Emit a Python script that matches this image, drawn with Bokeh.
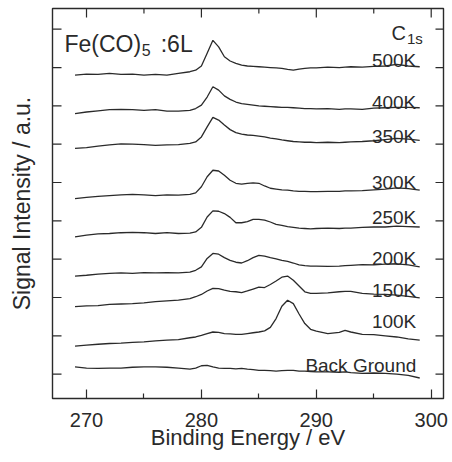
from bokeh.plotting import figure
from bokeh.models import FixedTicker, Label, Range1d
from bokeh.embed import file_html
from bokeh.resources import INLINE

# Binding energy grid (eV)
energy = [269, 270, 271, 272, 273, 274, 275, 276, 277, 278,
          279, 279.5, 280, 280.5, 281, 281.5, 282, 282.5, 283, 283.5,
          284, 284.5, 285, 285.5, 286, 286.5, 287, 287.5, 288, 288.5,
          289, 289.5, 290,
          291, 292, 292.5, 293, 294, 295, 296, 297, 298, 299]

# Stacked C1s spectra (signal intensity, a.u., with stacking offset)
s500 = [8.80, 8.83, 8.82, 8.85, 8.82, 8.83, 8.80, 8.82, 8.80, 8.85,
        8.89, 8.93, 9.04, 9.37, 9.71, 9.54, 9.28, 9.17, 9.11, 9.06,
        9.04, 9.03, 9.02, 9.01, 9.00, 8.99, 8.98, 8.95, 8.93, 8.96,
        8.98, 8.99, 8.99,
        9.01, 9.00, 9.01, 9.02, 9.01, 9.03, 9.04, 9.08, 9.04, 9.02]
s400 = [7.80, 7.84, 7.87, 7.90, 7.91, 7.90, 7.88, 7.90, 7.86, 7.86,
        7.88, 7.93, 8.02, 8.23, 8.50, 8.41, 8.26, 8.17, 8.10, 8.06,
        8.04, 8.02, 8.00, 7.99, 7.98, 7.97, 7.96, 7.96, 7.95, 7.94,
        7.93, 7.93, 7.92,
        7.93, 7.91, 7.92, 7.92, 7.91, 7.94, 7.95, 7.96, 7.96, 7.95]
s350 = [6.89, 6.91, 6.95, 6.98, 7.01, 7.00, 6.99, 6.97, 6.98, 6.99,
        7.02, 7.06, 7.19, 7.45, 7.70, 7.63, 7.50, 7.38, 7.30, 7.26,
        7.24, 7.23, 7.21, 7.19, 7.16, 7.14, 7.11, 7.09, 7.07, 7.06,
        7.05, 7.05, 7.04,
        7.05, 7.04, 7.05, 7.06, 7.07, 7.09, 7.12, 7.15, 7.13, 7.10]
s300 = [5.58, 5.61, 5.64, 5.66, 5.68, 5.69, 5.68, 5.66, 5.68, 5.67,
        5.69, 5.73, 5.89, 6.15, 6.32, 6.30, 6.19, 6.06, 5.98, 5.96,
        5.98, 5.99, 5.98, 5.91, 5.85, 5.83, 5.81, 5.80, 5.78, 5.77,
        5.77, 5.76, 5.76,
        5.77, 5.77, 5.78, 5.78, 5.79, 5.81, 5.83, 5.86, 5.84, 5.80]
s250 = [4.58, 4.63, 4.66, 4.67, 4.69, 4.70, 4.69, 4.67, 4.69, 4.67,
        4.68, 4.71, 4.83, 5.10, 5.26, 5.25, 5.19, 5.09, 4.95, 4.95,
        4.98, 5.04, 5.04, 5.02, 4.97, 4.91, 4.88, 4.85, 4.83, 4.81,
        4.80, 4.79, 4.80,
        4.81, 4.80, 4.81, 4.81, 4.83, 4.84, 4.84, 4.86, 4.85, 4.84]
s200 = [3.56, 3.58, 3.61, 3.63, 3.64, 3.63, 3.65, 3.64, 3.65, 3.64,
        3.66, 3.71, 3.80, 4.02, 4.15, 4.13, 4.04, 3.97, 3.92, 3.90,
        3.96, 4.04, 4.10, 4.08, 4.04, 4.01, 3.97, 3.94, 3.90, 3.85,
        3.83, 3.82, 3.82,
        3.81, 3.82, 3.83, 3.84, 3.86, 3.85, 3.87, 3.88, 3.85, 3.80]
s150 = [2.76, 2.78, 2.79, 2.82, 2.83, 2.84, 2.86, 2.89, 2.91, 2.93,
        2.97, 3.02, 3.08, 3.17, 3.24, 3.23, 3.19, 3.16, 3.15, 3.13,
        3.17, 3.22, 3.27, 3.26, 3.34, 3.43, 3.53, 3.56, 3.45, 3.30,
        3.15, 3.11, 3.11,
        3.12, 3.15, 3.16, 3.16, 3.11, 3.09, 3.08, 3.06, 3.03, 2.99]
s100 = [1.73, 1.76, 1.78, 1.80, 1.81, 1.83, 1.84, 1.87, 1.89, 1.90,
        1.95, 1.97, 2.01, 2.06, 2.10, 2.09, 2.06, 2.05, 2.04, 2.04,
        2.06, 2.08, 2.10, 2.13, 2.22, 2.45, 2.77, 2.93, 2.84, 2.57,
        2.32, 2.17, 2.12,
        2.06, 2.09, 2.14, 2.10, 2.04, 2.03, 2.00, 1.97, 1.92, 1.89]
s_bg = [1.19, 1.16, 1.15, 1.16, 1.16, 1.18, 1.19, 1.19, 1.18, 1.16,
        1.13, 1.16, 1.22, 1.23, 1.19, 1.16, 1.15, 1.15, 1.14, 1.15,
        1.13, 1.12, 1.10, 1.10, 1.09, 1.08, 1.09, 1.10, 1.10, 1.08,
        1.08, 1.07, 1.06,
        1.06, 1.05, 1.06, 1.04, 1.02, 1.03, 1.02, 1.00, 0.97, 0.90]

series = [s500, s400, s350, s300, s250, s200, s150, s100, s_bg]
names = ["500K", "400K", "350K", "300K", "250K", "200K", "150K", "100K", "Back Ground"]

x_major = [270, 280, 290, 300]
x_minor = [275, 285, 295]
y_ticks = [1, 2, 3, 4, 5, 6, 7, 8, 9, 10]

FONT = "Liberation Sans"
INK = "#2a2a2a"

X0, X1 = 267.04, 301.07
Y0, Y1 = 0.365, 10.54
FW, FH = 391, 390

p = figure(frame_width=FW, frame_height=FH,
           x_range=Range1d(X0, X1), y_range=Range1d(Y0, Y1),
           output_backend="svg", toolbar_location=None,
           min_border_left=52, min_border_right=9, min_border_top=8, min_border_bottom=64,
           background_fill_color="white", border_fill_color="white")
p.grid.visible = False
p.outline_line_color = INK
p.outline_line_width = 1.4

# bottom axis: labelled, ticks pointing inward
xa = p.xaxis[0]
xa.ticker = FixedTicker(ticks=x_major, minor_ticks=x_minor)
xa.axis_line_color = None
xa.major_tick_in = 9
xa.major_tick_out = 0
xa.minor_tick_in = 5
xa.minor_tick_out = 0
xa.major_tick_line_color = INK
xa.minor_tick_line_color = INK
xa.major_tick_line_width = 1.2
xa.minor_tick_line_width = 1.2
xa.major_label_text_font = FONT
xa.major_label_text_font_size = "20px"
xa.major_label_text_color = INK
xa.major_label_standoff = 14
xa.axis_label = "Binding Energy / eV"
xa.axis_label_text_font = FONT
xa.axis_label_text_font_size = "22px"
xa.axis_label_text_font_style = "normal"
xa.axis_label_text_color = INK
xa.axis_label_standoff = -5

# left axis: only the title (intensity is arbitrary, no numbers)
ya = p.yaxis[0]
ya.ticker = FixedTicker(ticks=[], minor_ticks=[])
ya.axis_line_color = None
ya.major_tick_in = 0
ya.major_tick_out = 0
ya.axis_label = "Signal Intensity / a.u."
ya.axis_label_text_font = FONT
ya.axis_label_text_font_size = "23px"
ya.axis_label_text_font_style = "normal"
ya.axis_label_text_color = INK
ya.axis_label_standoff = 18

# unlabelled inward ticks on left, right and top edges
dx = (X1 - X0) / FW   # data units per pixel
dy = (Y1 - Y0) / FH
p.segment(x0=[X0] * len(y_ticks), y0=y_ticks, x1=[X0 + 9 * dx] * len(y_ticks), y1=y_ticks,
          line_color=INK, line_width=1.2)
p.segment(x0=[X1] * len(y_ticks), y0=y_ticks, x1=[X1 - 8 * dx] * len(y_ticks), y1=y_ticks,
          line_color=INK, line_width=1.2)
p.segment(x0=x_major, y0=[Y1] * len(x_major), x1=x_major, y1=[Y1 - 9 * dy] * len(x_major),
          line_color=INK, line_width=1.2)
p.segment(x0=x_minor, y0=[Y1] * len(x_minor), x1=x_minor, y1=[Y1 - 5 * dy] * len(x_minor),
          line_color=INK, line_width=1.2)

for s in series:
    p.line(energy, s, line_color=INK, line_width=1.3)

label_x = 298.7
label_y = [9.19, 8.10, 7.21, 6.00, 5.10, 4.03, 3.17, 2.38, 1.23]
for name, ly in zip(names, label_y):
    p.add_layout(Label(x=label_x, y=ly, text=name, text_align="right",
                       text_baseline="alphabetic", text_font=FONT,
                       text_font_size="19px", text_color=INK))

# Sample annotation: Fe(CO)5 :6L
p.add_layout(Label(x=268.08, y=9.61, text="Fe(CO)", text_align="left", text_baseline="alphabetic",
                   text_font=FONT, text_font_size="23px", text_color=INK))
p.add_layout(Label(x=274.80, y=9.45, text="5", text_align="left", text_baseline="alphabetic",
                   text_font=FONT, text_font_size="16px", text_color=INK))
p.add_layout(Label(x=279.24, y=9.61, text=":6L", text_align="right", text_baseline="alphabetic",
                   text_font=FONT, text_font_size="23px", text_color=INK))
# Core level: C1s
p.add_layout(Label(x=297.81, y=9.89, text="C", text_align="right", text_baseline="alphabetic",
                   text_font=FONT, text_font_size="20px", text_color=INK))
p.add_layout(Label(x=299.27, y=9.76, text="1s", text_align="right", text_baseline="alphabetic",
                   text_font=FONT, text_font_size="15px", text_color=INK))

open("out.html", "w").write(file_html(p, INLINE))
